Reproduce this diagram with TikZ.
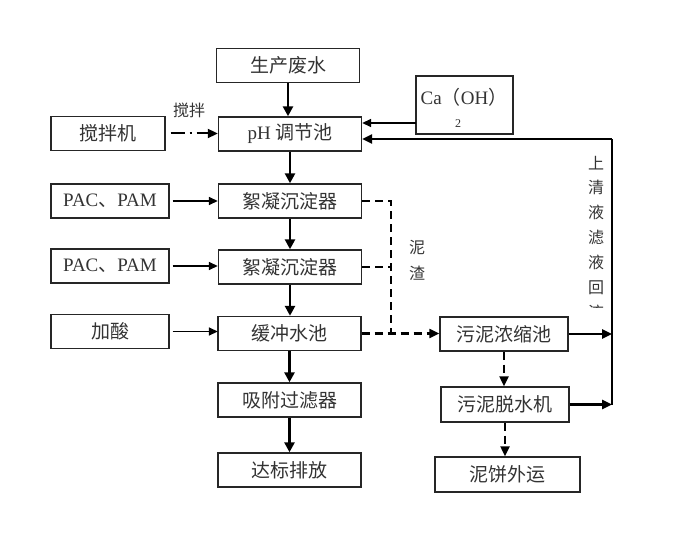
\documentclass[tikz,border=0pt]{standalone}
\usepackage{fontspec}
\setmainfont{Liberation Serif}
\newfontfamily\cjk{Noto Sans CJK SC}
\usetikzlibrary{arrows.meta}
\begin{document}
\begin{tikzpicture}[x=1pt,y=-1pt,
  box/.style={draw=black!85,line width=1.4pt,inner sep=0pt,text=black!80,font=\fontsize{19}{22}\selectfont},
  mainbox/.style={box,minimum width=143pt,minimum height=34pt},
  leftbox/.style={box,minimum width=118pt,minimum height=34pt},
  thick arrow/.style={line width=2.8pt,-{Triangle[length=10pt,width=10pt]}},
  thin arrow/.style={line width=1.6pt,-{Triangle[length=9pt,width=8pt]}},
  loopline/.style={line width=2.4pt},
  sludge/.style={line width=2.2pt,dash pattern=on 8pt off 5pt},
  lbl/.style={text=black!80,font=\fontsize{16}{18}\selectfont\cjk,inner sep=0pt}]
\useasboundingbox (0,0) rectangle (684,545);
% main column
\node[mainbox] (raw) at (288,65.5) {\cjk 生产废水};
\node[mainbox] (ph) at (290,134) {pH {\cjk 调节池}};
\node[mainbox] (floc1) at (290,201) {\cjk 絮凝沉淀器};
\node[mainbox] (floc2) at (290,267) {\cjk 絮凝沉淀器};
\node[mainbox] (buffer) at (289.5,333.5) {\cjk 缓冲水池};
\node[mainbox] (adsorb) at (289.5,400) {\cjk 吸附过滤器};
\node[mainbox] (out) at (289.5,470) {\cjk 达标排放};
% left column
\node[leftbox,minimum width=114pt] (mixer) at (108,133.5) {\cjk 搅拌机};
\node[leftbox] (pac1) at (110,201) {PAC{\cjk 、}PAM};
\node[leftbox] (pac2) at (110,266) {PAC{\cjk 、}PAM};
\node[leftbox] (acid) at (110,331.5) {\cjk 加酸};
% right side
\node[box,minimum width=97pt,minimum height=58pt] (ca) at (464.5,105) {};
\node[inner sep=0pt,text=black!80,font=\fontsize{19}{22}\selectfont] (catext) at (464,97) {Ca{\cjk （}OH{\cjk ）}};
\node[inner sep=0pt,text=black!80,font=\fontsize{12}{13}\selectfont] (casub) at (458,124) {2};
\node[box,minimum width=128pt,minimum height=34pt] (conc) at (504,334) {\cjk 污泥浓缩池};
\node[box,minimum width=128pt,minimum height=35pt] (dew) at (505,404.5) {\cjk 污泥脱水机};
\node[box,minimum width=145pt,minimum height=35pt] (cake) at (507.5,474.5) {\cjk 泥饼外运};
% labels
\node[lbl] (stir) at (189,110) {搅拌};
\node[lbl] (ni) at (417,248) {泥};
\node[lbl] (zha) at (417,273) {渣};
\begin{scope}
\clip (580,140) rectangle (610,307);
\foreach \c [count=\i] in {上,清,液,滤,液,回,流}
  \node[lbl] (rv\i) at (596,{163+24.9*(\i-1)}) {\c};
\end{scope}
% main flow
\draw[thick arrow] (raw) -- (raw.south |- ph.north);
\draw[thick arrow] (ph) -- (floc1);
\draw[thick arrow] (floc1) -- (floc2);
\draw[thick arrow] (floc2) -- (floc2.south |- buffer.north);
\draw[thick arrow] (buffer) -- (adsorb);
\draw[thick arrow] (adsorb) -- (out);
% dosing
\draw[line width=2pt,dash pattern=on 14pt off 5pt on 2pt off 5pt,-{Triangle[length=10pt,width=9pt]}] ([xshift=5pt]mixer.east) -- (mixer.east -| ph.west);
\draw[thin arrow] ([xshift=3pt]pac1.east) -- (ph.west |- pac1.east);
\draw[thin arrow] ([xshift=3pt]pac2.east) -- (ph.west |- pac2.east);
\draw[thin arrow] ([xshift=3pt]acid.east) -- (ph.west |- acid.east);
\coordinate (caout) at (416,123);
\draw[thin arrow] (caout) -- (caout -| ph.east);
% sludge
\coordinate (sj) at (391,332);
\draw[sludge] (floc1.east) -- (floc1.east -| sj) -- (sj);
\draw[sludge] (floc2.east) -- (floc2.east -| sj);
\draw[sludge,-{Triangle[length=10pt,width=9pt]}] (buffer.east) -- (buffer.east -| conc.west);
\draw[sludge,-{Triangle[length=10pt,width=9pt]}] (conc) -- (conc.south |- dew.north);
\draw[sludge,-{Triangle[length=10pt,width=9pt]}] (dew) -- (dew.south |- cake.north);
% recycle
\coordinate (rtop) at (612,139);
\coordinate (rbot) at (612,404.5);
\draw[loopline] (rbot) -- (rtop);
\draw[loopline,-{Triangle[length=10pt,width=9pt]}] (rtop) -- (rtop -| ph.east);
\draw[loopline,-{Triangle[length=10pt,width=9pt]}] (conc.east) -- (conc.east -| rtop);
\draw[loopline,-{Triangle[length=10pt,width=9pt]}] (dew.east) -- (rbot);
\end{tikzpicture}
\end{document}
